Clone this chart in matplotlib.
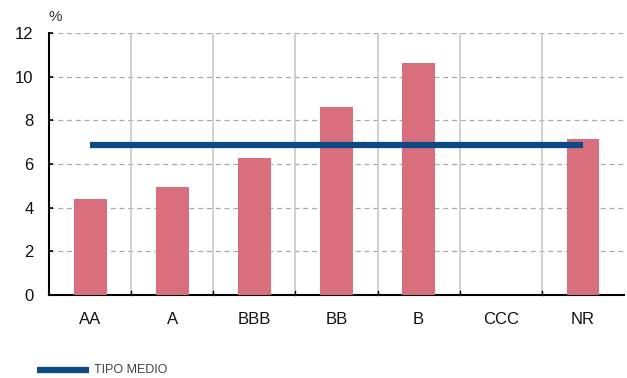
import matplotlib
matplotlib.use("Agg")
import matplotlib.pyplot as plt
import numpy as np

categories = ["AA", "A", "BBB", "BB", "B", "CCC", "NR"]
values = [4.4, 4.95, 6.28, 8.62, 10.63, 0.0, 7.15]
tipo_medio = 6.88
yticks = [0, 2, 4, 6, 8, 10, 12]

plt.rcParams['font.family'] = ['Liberation Sans', 'DejaVu Sans']

fig = plt.figure(figsize=(6.27, 3.78), dpi=100)
ax = fig.add_axes([49/627, 1-295/378, (624-49)/627, (295-33)/378])

x = np.arange(len(categories))
ax.bar(x, values, width=0.4, color="#d96e7c", zorder=3)
ax.plot([x[0], x[-1]], [tipo_medio, tipo_medio], color="#0d4a85", lw=4.5, zorder=4,
        solid_capstyle='butt')

ax.set_xlim(-0.5, len(categories) - 0.5)
ax.set_ylim(0, 12)
ax.set_yticks(yticks)
ax.set_yticklabels([str(t) for t in yticks], fontsize=12, color="#111111")
ax.set_xticks(x)
ax.set_xticklabels(categories, fontsize=12, color="#111111")
ax.tick_params(axis='x', length=0, pad=12)
ax.tick_params(axis='y', direction='in', length=3, width=1.2, pad=11)

for yv in yticks[1:]:
    ax.axhline(yv, color="#aaaaaa", lw=0.9, ls=(0, (4, 3)), zorder=1)
for b in np.arange(0.5, len(categories) - 0.5, 1):
    ax.axvline(b, color="#c8c8c8", lw=1.2, zorder=1)
    ax.plot([b, b], [0, 0.18], color="black", lw=1.0, zorder=5, clip_on=False)

for s in ["top", "right"]:
    ax.spines[s].set_visible(False)
ax.spines["left"].set_linewidth(1.5)
ax.spines["bottom"].set_linewidth(1.5)

fig.text(55/627, 1-17/378, "%", fontsize=11, ha="center", va="center", color="#333333")

fig.lines.append(plt.Line2D([37/627, 89/627], [1-370/378, 1-370/378], color="#0d4a85",
                            lw=4.5, transform=fig.transFigure, solid_capstyle='butt'))
fig.text(94/627, 1-370/378, "TIPO MEDIO", fontsize=9, ha="left", va="center",
         color="#444444", family=['Liberation Sans Narrow', 'Liberation Sans', 'DejaVu Sans'])

fig.savefig("out.png", dpi=100)
